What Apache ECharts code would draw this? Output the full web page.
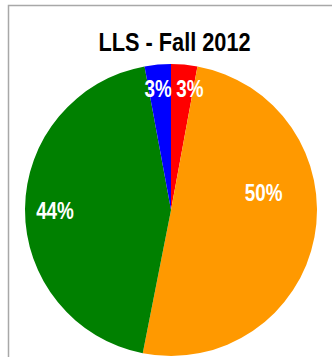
<!DOCTYPE html>
<html>
<head>
<meta charset="utf-8">
<script src="https://cdn.jsdelivr.net/npm/echarts@6/dist/echarts.min.js"></script>
<style>
html,body{margin:0;padding:0;background:#fff;}
#chart{width:332px;height:357px;}
</style>
</head>
<body>
<div id="chart"></div>
<script>
// Data (percent of total)
const titleText = 'LLS - Fall 2012';
const categories = ['Red', 'Orange', 'Green', 'Blue'];
const values = [2.9, 50.2, 44.0, 2.9];

// Styling (kept separate from the data)
const colors = ['#FF0000', '#FF9900', '#008000', '#0000FF'];
const labelOffsets = [[12, -45], [18, -31], [-40, 1], [-6, -45]];
const fontFamily = '"Liberation Sans", Arial, sans-serif';
const narrowFactor = 0.82; // emulate the condensed (Arial Narrow-like) face

const chart = echarts.init(document.getElementById('chart'), null, {renderer: 'svg'});

const pieData = categories.map((name, i) => ({
  name: name,
  value: values[i],
  itemStyle: {color: colors[i]},
  label: {offset: labelOffsets[i]}
}));

chart.setOption({
  animation: false,
  backgroundColor: '#ffffff',
  graphic: [{
    type: 'rect',
    silent: true,
    z: 0,
    shape: {x: 8.5, y: 5.5, width: 400, height: 400},
    style: {fill: 'none', stroke: '#a8a8a8', lineWidth: 1.5}
  }],
  title: {
    text: titleText,
    left: 174.5,
    top: 29,
    textAlign: 'center',
    padding: 0,
    textStyle: {
      fontFamily: fontFamily,
      fontWeight: 'bold',
      fontSize: 26.5,
      lineHeight: 26.5,
      color: '#000000'
    }
  },
  series: [{
    type: 'pie',
    center: [171, 210],
    radius: [0, 146],
    startAngle: 90,
    clockwise: true,
    avoidLabelOverlap: false,
    minAngle: 0,
    itemStyle: {borderWidth: 0},
    emphasis: {disabled: true},
    labelLayout: {hideOverlap: false},
    label: {
      show: true,
      position: 'inside',
      formatter: function (p) { return Math.round(p.percent) + '%'; },
      color: '#ffffff',
      fontFamily: fontFamily,
      fontWeight: 'bold',
      fontSize: 23,
      textBorderWidth: 0
    },
    labelLine: {show: false},
    data: pieData
  }]
});

function condenseTexts() {
  document.querySelectorAll('#chart text').forEach(function (t) {
    if (t.getAttribute('lengthAdjust')) return;
    const w = t.getComputedTextLength();
    if (w > 0) {
      t.setAttribute('textLength', (w * narrowFactor).toFixed(2));
      t.setAttribute('lengthAdjust', 'spacingAndGlyphs');
    }
  });
}
condenseTexts();
chart.on('finished', condenseTexts);
</script>
</body>
</html>
